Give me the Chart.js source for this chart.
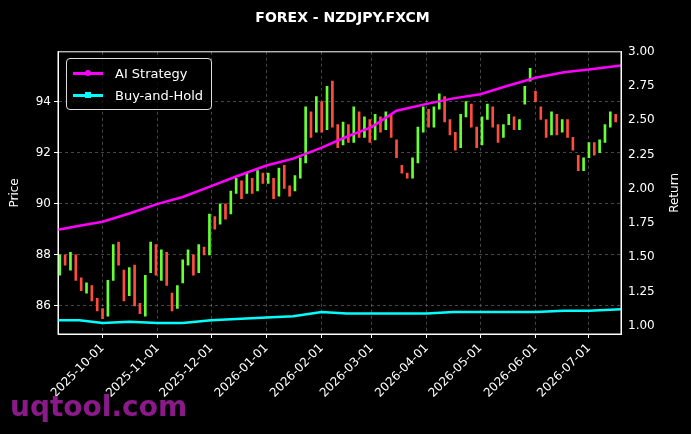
<!DOCTYPE html>
<html>
<head>
<meta charset="utf-8">
<script src="https://cdn.jsdelivr.net/npm/chart.js@4"></script>
<style>
  body { margin: 0; background: #000; }
  #wrap { position: relative; width: 691px; height: 434px; }
  #legend { position: absolute; left: 66px; top: 58px; border: 1px solid #ddd; border-radius: 4px;
    padding: 3px 8px 3px 6px; font: 13px "DejaVu Sans"; color: #fff; background: rgba(0,0,0,0.8); }
  #legend div { display: flex; align-items: center; height: 22px; }
  #legend span.l { display: inline-block; width: 30px; height: 3px; margin-right: 12px; position: relative; }
  #legend span.l i { position: absolute; left: 12px; top: -2px; width: 6px; height: 6px; border-radius: 3px; }
  #wm { position: absolute; left: 10px; top: 390px; font: bold 28px "DejaVu Sans"; color: #8a1a8a; }
</style>
</head>
<body>
<div id="wrap">
  <canvas id="c" width="691" height="434"></canvas>
  <div id="legend">
    <div><span class="l" style="background:#ff00ff"><i style="background:#ff00ff"></i></span>AI Strategy</div>
    <div><span class="l" style="background:#00ffff"><i style="background:#00ffff;border-radius:0"></i></span>Buy-and-Hold</div>
  </div>
  <div id="wm">uqtool.com</div>
</div>
<script>
// days counted from 2025-09-06
const monthTicks = [25, 56, 86, 117, 148, 176, 207, 237, 268, 298];
const monthLabels = ['2025-10-01', '2025-11-01', '2025-12-01', '2026-01-01', '2026-02-01',
  '2026-03-01', '2026-04-01', '2026-05-01', '2026-06-01', '2026-07-01'];

const candleDays = [1, 4, 7, 10, 13, 16, 19, 22, 25, 28, 31, 34, 37, 40, 43, 46, 49, 52, 55, 58,
  61, 64, 67, 70, 73, 76, 79, 82, 85, 88, 91, 94, 97, 100, 103, 106, 109, 112, 115, 118,
  121, 124, 127, 130, 133, 136, 139, 142, 145, 148, 151, 154, 157, 160, 163, 166, 169, 172, 175, 178,
  181, 184, 187, 190, 193, 196, 199, 202, 205, 208, 211, 214, 217, 220, 223, 226, 229, 232, 235, 238,
  241, 244, 247, 250, 253, 256, 259, 262, 265, 268, 271, 274, 277, 280, 283, 286, 289, 292, 295, 298,
  301, 304, 307, 310, 313];
const opens = [87.2, 88.0, 87.4, 88.0, 87.1, 86.5, 86.8, 86.3, 85.9, 85.6, 87.0, 88.5, 87.4, 86.4, 87.6, 86.1, 85.6, 87.3, 88.4, 87.0,
  88.1, 86.5, 85.9, 86.9, 87.6, 88.0, 87.3, 88.3, 88.0, 89.5, 89.2, 90.0, 89.6, 90.4, 90.9, 90.4, 91.0, 90.5, 91.2, 90.8,
  91.0, 90.3, 91.5, 90.7, 90.5, 91.0, 91.6, 93.6, 92.8, 94.0, 92.9, 94.8, 93.1, 92.3, 93.1, 92.4, 93.6, 92.6, 93.3, 92.5,
  93.4, 92.9, 93.5, 92.5, 91.5, 91.2, 91.0, 91.6, 92.8, 93.7, 93.0, 93.7, 94.2, 93.3, 92.8, 92.2, 93.4, 93.9, 93.0, 92.3,
  93.3, 93.8, 93.1, 92.6, 93.1, 93.4, 92.9, 93.9, 94.8, 94.4, 93.8, 93.3, 92.7, 93.5, 92.8, 93.3, 92.6, 91.9, 91.3, 91.8,
  92.4, 92.0, 92.4, 93.0, 93.5];
const closes = [88.0, 87.6, 88.1, 87.0, 86.6, 86.9, 86.2, 85.8, 85.5, 87.0, 88.4, 87.6, 86.2, 87.5, 86.0, 85.7, 87.2, 88.5, 87.2, 88.2,
  86.8, 85.8, 86.8, 87.8, 88.2, 87.2, 88.4, 88.0, 89.6, 89.0, 90.0, 89.4, 90.5, 91.0, 90.2, 91.2, 90.4, 91.3, 90.8, 91.2,
  90.2, 91.4, 90.6, 90.3, 91.1, 91.8, 93.8, 92.6, 94.2, 92.8, 94.6, 93.0, 92.2, 93.2, 92.4, 93.8, 92.6, 93.4, 92.4, 93.5,
  92.8, 93.6, 92.6, 91.8, 91.2, 91.0, 91.8, 93.0, 93.8, 93.0, 93.8, 94.3, 93.2, 92.7, 92.1, 93.5, 94.0, 93.0, 92.2, 93.4,
  93.9, 93.0, 92.4, 93.1, 93.5, 92.9, 93.3, 94.6, 95.3, 94.0, 93.3, 92.6, 93.6, 92.7, 93.3, 92.6, 92.1, 91.3, 91.8, 92.4,
  91.9, 92.5, 93.1, 93.6, 93.2];

const lineDays = [0, 12, 25, 40, 56, 70, 86, 100, 117, 132, 148, 162, 176, 190, 207, 222, 237, 252, 268, 284, 298, 316];
const aiStrategy = [1.70, 1.73, 1.76, 1.82, 1.89, 1.94, 2.02, 2.09, 2.17, 2.22, 2.30, 2.38, 2.45, 2.57, 2.62, 2.66, 2.69, 2.75, 2.81, 2.85, 2.87, 2.90];
const buyHold = [1.04, 1.04, 1.02, 1.03, 1.02, 1.02, 1.04, 1.05, 1.06, 1.07, 1.10, 1.09, 1.09, 1.09, 1.09, 1.10, 1.10, 1.10, 1.10, 1.11, 1.11, 1.12];

const candleData = candleDays.map((d, i) => ({ x: d, y: [opens[i], closes[i]] }));
const candleColors = candleDays.map((d, i) => closes[i] >= opens[i] ? '#66ff33' : '#ff4d3d');

Chart.defaults.font.family = 'DejaVu Sans';
Chart.defaults.color = '#fff';
const grid = { color: 'rgba(128,128,128,0.55)', drawTicks: true, tickColor: '#fff', tickLength: 4 };
const border = { color: '#fff', dash: [3, 3] };

new Chart(document.getElementById('c'), {
  data: {
    datasets: [
      { type: 'bar', data: candleData, backgroundColor: candleColors, barThickness: 2, maxBarThickness: 2, yAxisID: 'y', order: 3 },
      { type: 'line', label: 'AI Strategy', data: lineDays.map((d, i) => ({ x: d, y: aiStrategy[i] })),
        borderColor: '#ff00ff', borderWidth: 2.5, pointRadius: 0, yAxisID: 'y1', order: 1 },
      { type: 'line', label: 'Buy-and-Hold', data: lineDays.map((d, i) => ({ x: d, y: buyHold[i] })),
        borderColor: '#00ffff', borderWidth: 2.5, pointRadius: 0, yAxisID: 'y1', order: 2 }
    ]
  },
  options: {
    responsive: false,
    animation: false,
    layout: { padding: { top: 0, right: 10, left: 4, bottom: 0 } },
    plugins: {
      legend: { display: false },
      tooltip: { enabled: false },
      title: { display: true, text: 'FOREX - NZDJPY.FXCM', color: '#fff', font: { size: 14, weight: 'bold' }, padding: { top: 10, bottom: 25 } }
    },
    scales: {
      x: {
        type: 'linear', min: 0, max: 316, offset: false,
        afterBuildTicks: ax => { ax.ticks = monthTicks.map(v => ({ value: v })); },
        afterFit: ax => { ax.height = 100; },
        ticks: { color: '#fff', font: { size: 12 }, maxRotation: 45, minRotation: 45, autoSkip: false,
          callback: (v) => monthLabels[monthTicks.indexOf(v)] },
        grid: { ...grid, offset: false },
        border: border
      },
      y: {
        position: 'left', min: 84.9, max: 95.95,
        afterBuildTicks: ax => { ax.ticks = [86, 88, 90, 92, 94].map(v => ({ value: v })); },
        afterFit: ax => { ax.width = 54; },
        title: { display: true, text: 'Price', color: '#fff', font: { size: 12 } },
        ticks: { color: '#fff', font: { size: 12 } },
        grid: grid,
        border: border
      },
      y1: {
        position: 'right', min: 0.94, max: 3.0,
        afterBuildTicks: ax => { ax.ticks = [1, 1.25, 1.5, 1.75, 2, 2.25, 2.5, 2.75, 3].map(v => ({ value: v })); },
        afterFit: ax => { ax.width = 60; },
        ticks: { color: '#fff', font: { size: 12 }, callback: v => v.toFixed(2) },
        grid: { display: false, drawTicks: true, tickColor: '#fff', tickLength: 4 },
        border: { color: '#fff' }
      }
    }
  },
  plugins: [{
    id: 'bg',
    beforeDraw: c => { const g = c.ctx; g.save(); g.fillStyle = '#000'; g.fillRect(0, 0, c.width, c.height); g.restore(); },
    afterDraw: c => {
      const a = c.chartArea, g = c.ctx;
      g.save(); g.strokeStyle = '#fff'; g.lineWidth = 1;
      g.strokeRect(a.left, a.top, a.right - a.left, a.bottom - a.top);
      // right axis title, reading bottom-to-top
      g.translate(675, (a.top + a.bottom) / 2); g.rotate(-Math.PI / 2);
      g.fillStyle = '#fff'; g.font = '12px "DejaVu Sans"'; g.textAlign = 'center'; g.textBaseline = 'middle';
      g.fillText('Return', 0, 0);
      g.restore();
    }
  }]
});
</script>
</body>
</html>
